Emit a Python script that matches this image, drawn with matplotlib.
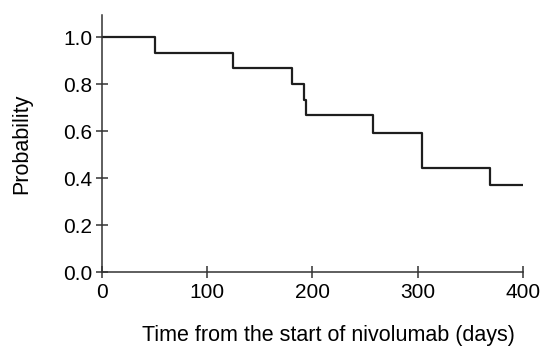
import numpy as np
import matplotlib.pyplot as plt

plt.rcParams['font.family'] = ['Liberation Sans', 'DejaVu Sans']

# Kaplan-Meier step curve
times = [0, 50, 125, 181, 192, 194, 258, 304, 369, 400]
surv = [1.0, 0.933, 0.867, 0.8, 0.733, 0.667, 0.593, 0.444, 0.370, 0.370]

xticks = [0, 100, 200, 300, 400]
yticks = [0.0, 0.2, 0.4, 0.6, 0.8, 1.0]

fig = plt.figure(figsize=(5.44, 3.48), dpi=100)
ax = fig.add_axes([0.1875, 0.218, 0.7735, 0.739])

ax.step(times, surv, where='post', color='#1e1e1e', lw=1.6)

ax.set_xlim(0, 400)
ax.set_ylim(0, 1.094)
ax.set_xticks(xticks)
ax.set_yticks(yticks)
ax.set_yticklabels(['{:.1f}'.format(v) for v in yticks])
ax.spines['top'].set_visible(False)
ax.spines['right'].set_visible(False)
for s in ('left', 'bottom'):
    ax.spines[s].set_linewidth(1.1)
    ax.spines[s].set_color('#333333')
ax.tick_params(direction='inout', length=8, width=1.1, color='#333333',
               labelsize=15, pad=3)
ax.tick_params(axis='x', pad=4)

ax.set_xlabel('Time from the start of nivolumab (days)', fontsize=15.5, labelpad=16.5)
ax.xaxis.label.set_x(0.537)
ax.set_ylabel('Probability', fontsize=15.5, labelpad=22)

fig.savefig('out.png', dpi=100)
